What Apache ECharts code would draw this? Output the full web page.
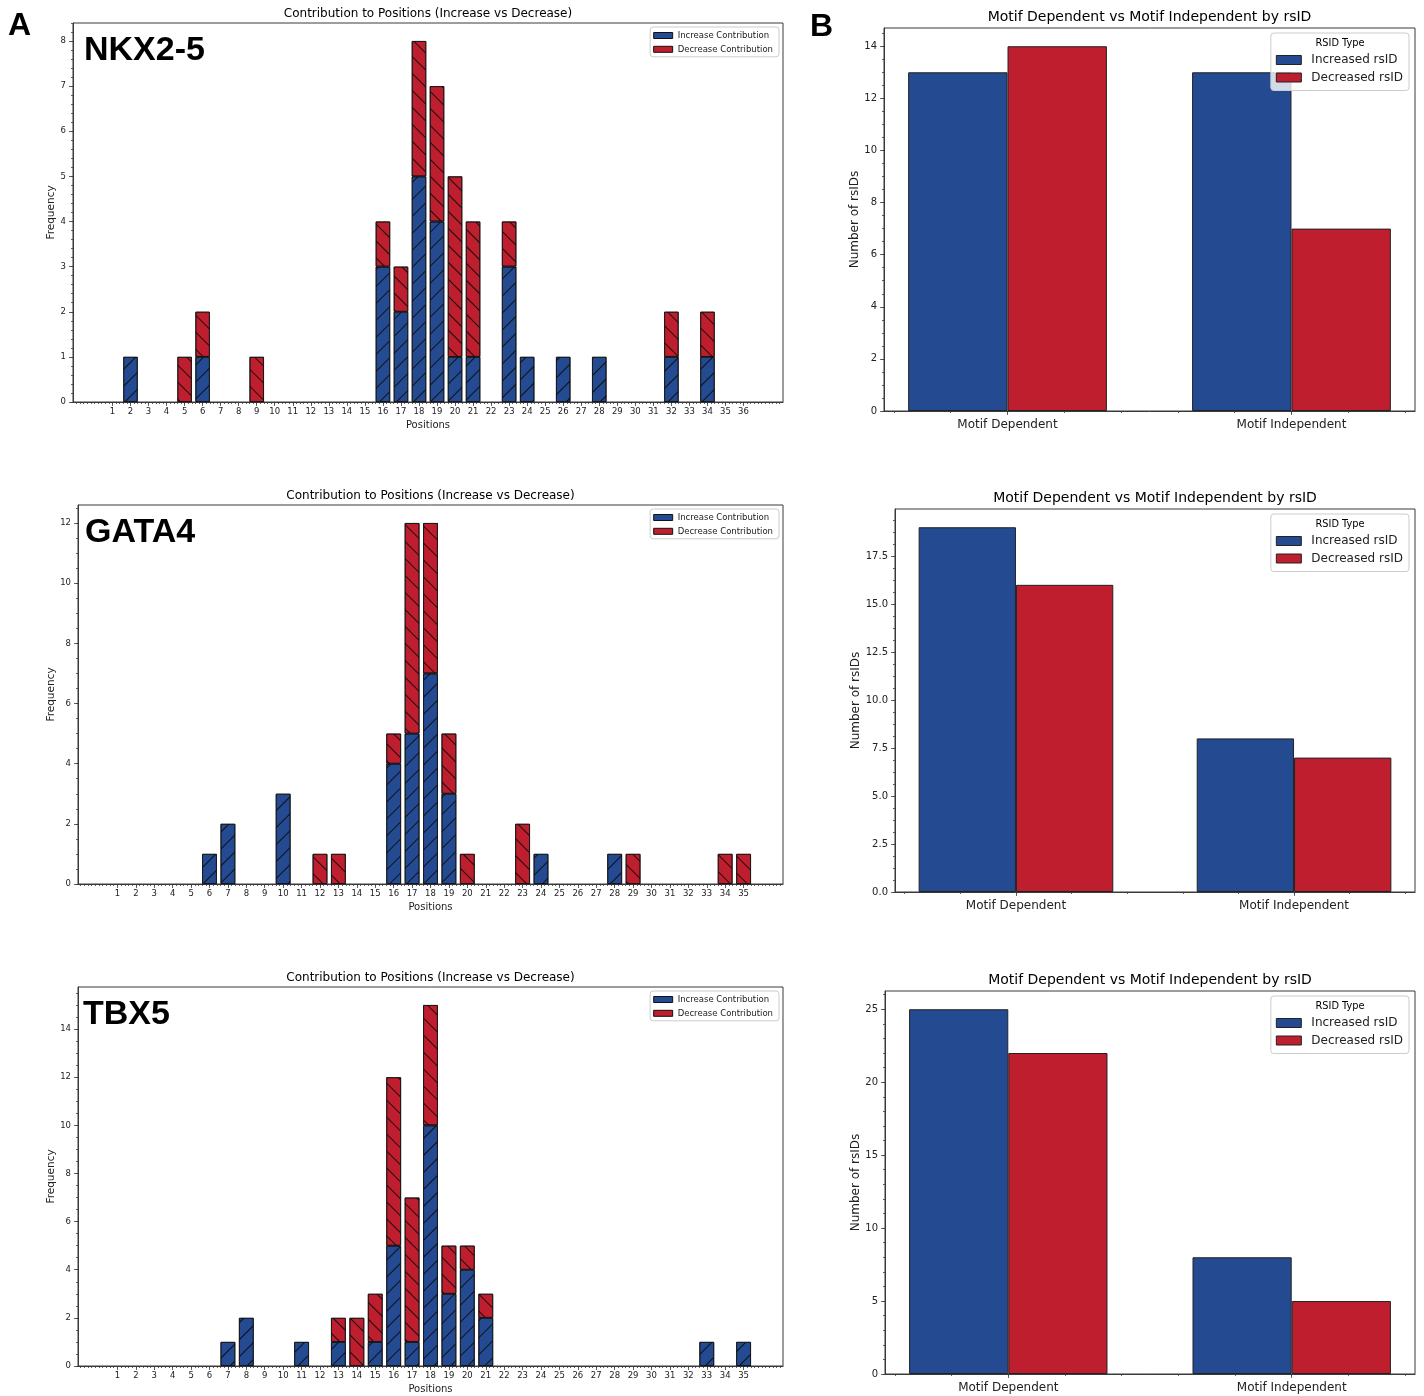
<!DOCTYPE html>
<html>
<head>
<meta charset="utf-8">
<script src="https://cdn.jsdelivr.net/npm/echarts@6/dist/echarts.min.js"></script>
<style>
    html, body { margin: 0; padding: 0; background: #fff; }
    #main { width: 1424px; height: 1396px; }
</style>
</head>
<body>
<div id="main"></div>
<script>
// ---- data ----
var nkxPositions = [1, 2, 3, 4, 5, 6, 7, 8, 9, 10, 11, 12, 13, 14, 15, 16, 17, 18, 19, 20, 21, 22, 23, 24, 25, 26, 27, 28, 29, 30, 31, 32, 33, 34, 35, 36];
var nkxIncrease = [0, 1, 0, 0, 0, 1, 0, 0, 0, 0, 0, 0, 0, 0, 0, 3, 2, 5, 4, 1, 1, 0, 3, 1, 0, 1, 0, 1, 0, 0, 0, 1, 0, 1, 0, 0];
var nkxDecrease = [0, 0, 0, 0, 1, 1, 0, 0, 1, 0, 0, 0, 0, 0, 0, 1, 1, 3, 3, 4, 3, 0, 1, 0, 0, 0, 0, 0, 0, 0, 0, 1, 0, 1, 0, 0];
var nkxYTicks = [0, 1, 2, 3, 4, 5, 6, 7, 8];

var gataPositions = [1, 2, 3, 4, 5, 6, 7, 8, 9, 10, 11, 12, 13, 14, 15, 16, 17, 18, 19, 20, 21, 22, 23, 24, 25, 26, 27, 28, 29, 30, 31, 32, 33, 34, 35];
var gataIncrease = [0, 0, 0, 0, 0, 1, 2, 0, 0, 3, 0, 0, 0, 0, 0, 4, 5, 7, 3, 0, 0, 0, 0, 1, 0, 0, 0, 1, 0, 0, 0, 0, 0, 0, 0];
var gataDecrease = [0, 0, 0, 0, 0, 0, 0, 0, 0, 0, 0, 1, 1, 0, 0, 1, 7, 5, 2, 1, 0, 0, 2, 0, 0, 0, 0, 0, 1, 0, 0, 0, 0, 1, 1];
var gataYTicks = [0, 2, 4, 6, 8, 10, 12];

var tbxPositions = [1, 2, 3, 4, 5, 6, 7, 8, 9, 10, 11, 12, 13, 14, 15, 16, 17, 18, 19, 20, 21, 22, 23, 24, 25, 26, 27, 28, 29, 30, 31, 32, 33, 34, 35];
var tbxIncrease = [0, 0, 0, 0, 0, 0, 1, 2, 0, 0, 1, 0, 1, 0, 1, 5, 1, 10, 3, 4, 2, 0, 0, 0, 0, 0, 0, 0, 0, 0, 0, 0, 1, 0, 1];
var tbxDecrease = [0, 0, 0, 0, 0, 0, 0, 0, 0, 0, 0, 0, 1, 2, 2, 7, 6, 5, 2, 1, 1, 0, 0, 0, 0, 0, 0, 0, 0, 0, 0, 0, 0, 0, 0];
var tbxYTicks = [0, 2, 4, 6, 8, 10, 12, 14];

var motifCategories = ['Motif Dependent', 'Motif Independent'];
var nkxMotifIncreased = [13, 13];
var nkxMotifDecreased = [14, 7];
var nkxMotifYTicks = [0, 2, 4, 6, 8, 10, 12, 14];
var gataMotifIncreased = [19, 8];
var gataMotifDecreased = [16, 7];
var gataMotifYTicks = [0, 2.5, 5, 7.5, 10, 12.5, 15, 17.5];
var tbxMotifIncreased = [25, 8];
var tbxMotifDecreased = [22, 5];
var tbxMotifYTicks = [0, 5, 10, 15, 20, 25];

// ---- style ----
var BLUE = '#244a91';
var RED = '#be1e2d';
var INK = '#222';
var SPINE = '#3a3a3a';
var FONT = '"DejaVu Sans", sans-serif';

// positions of minor ticks along an axis
function steps(a, b, step) {
    var out = [];
    for (var k = Math.ceil(a / step - 1e-9); k * step <= b + 1e-9; k++) {
        out.push(+(k * step).toFixed(4));
    }
    return out;
}

function hatch(rot) { // matplotlib-like hatch lines
    return {
        symbol: 'rect', symbolSize: 1, color: 'rgba(10,10,10,0.9)', backgroundColor: null,
        dashArrayX: [1, 0], dashArrayY: [1, 11], rotation: rot
    };
}

// value first, position second: the stack then runs on the value dimension
function pairs(pos, vals) {
    return pos.map(function (p, i) { return [vals[i] ? vals[i] : '-', p]; });
}

var leftPanels = [
    { gene: 'NKX2-5', pos: nkxPositions, inc: nkxIncrease, dec: nkxDecrease, yTicks: nkxYTicks, yMinor: 0.2, box: [73, 23, 710, 379], geneAt: [84, 51] },
    { gene: 'GATA4', pos: gataPositions, inc: gataIncrease, dec: gataDecrease, yTicks: gataYTicks, yMinor: 0.5, box: [78, 505, 705, 379], geneAt: [85, 533] },
    { gene: 'TBX5', pos: tbxPositions, inc: tbxIncrease, dec: tbxDecrease, yTicks: tbxYTicks, yMinor: 0.5, box: [78, 987, 705, 379], geneAt: [83, 1015] }
];
var rightPanels = [
    { inc: nkxMotifIncreased, dec: nkxMotifDecreased, yTicks: nkxMotifYTicks, yMinor: 0.5, decimals: 0, box: [884, 28, 531, 383] },
    { inc: gataMotifIncreased, dec: gataMotifDecreased, yTicks: gataMotifYTicks, yMinor: 0.625, decimals: 1, box: [895, 509, 520, 383] },
    { inc: tbxMotifIncreased, dec: tbxMotifDecreased, yTicks: tbxMotifYTicks, yMinor: 1, decimals: 0, box: [885, 991, 530, 383] }
];

var grid = [], xAxis = [], yAxis = [], series = [], legend = [], graphic = [];

function tickAxis(kind, g, min, max, values, len) { // extra axis that only carries ticks
    return {
        type: 'value', gridIndex: g, min: min, max: max, position: kind === 'x' ? 'bottom' : 'left',
        axisLine: { show: false, onZero: false },
        axisTick: { show: true, customValues: values, length: len, lineStyle: { color: SPINE, width: 0.8 } },
        axisLabel: { show: false }, splitLine: { show: false }
    };
}

function text(x, y, str, font, align) {
    return {
        type: 'text', x: x, y: y, z: 100, silent: true,
        style: { text: str, font: font, fill: '#000', align: align || 'center', verticalAlign: 'middle', textAlign: align || 'center', textVerticalAlign: 'middle' }
    };
}

leftPanels.forEach(function (p, i) {
    var g = grid.length;
    grid.push({ left: p.box[0], top: p.box[1], width: p.box[2], height: p.box[3], show: true, borderColor: SPINE, borderWidth: 1 });

    var n = p.pos.length;
    var span = n - 0.2;                       // bars occupy [0.6, n + 0.4]
    var xMin = 0.6 - 0.05 * span, xMax = n + 0.4 + 0.05 * span;
    var totals = p.inc.map(function (v, k) { return v + p.dec[k]; });
    var yMax = Math.max.apply(null, totals) * 1.05;

    var xi = xAxis.length;
    xAxis.push({
        type: 'value', gridIndex: g, min: xMin, max: xMax, position: 'bottom',
        axisLine: { show: true, onZero: false, lineStyle: { color: SPINE, width: 1 } },
        axisTick: { show: true, customValues: p.pos, length: 4, lineStyle: { color: SPINE, width: 0.8 } },
        axisLabel: { customValues: p.pos, fontSize: 8.5, color: INK, margin: 5, fontFamily: FONT },
        splitLine: { show: false },
        name: 'Positions', nameLocation: 'middle', nameGap: 18,
        nameTextStyle: { fontSize: 10, color: INK, fontFamily: FONT }
    });
    xAxis.push(tickAxis('x', g, xMin, xMax, steps(xMin, xMax, 0.2), 2));

    var yi = yAxis.length;
    yAxis.push({
        type: 'value', gridIndex: g, min: 0, max: yMax, position: 'left',
        axisLine: { show: true, onZero: false, lineStyle: { color: SPINE, width: 1 } },
        axisTick: { show: true, customValues: p.yTicks, length: 4, lineStyle: { color: SPINE, width: 0.8 } },
        axisLabel: { customValues: p.yTicks, fontSize: 8.5, color: INK, margin: 7, fontFamily: FONT },
        splitLine: { show: false },
        name: 'Frequency', nameLocation: 'middle', nameGap: 15,
        nameTextStyle: { fontSize: 10.5, color: INK, fontFamily: FONT }
    });
    yAxis.push(tickAxis('y', g, 0, yMax, steps(0, yMax, p.yMinor), 2));

    var bw = 0.8 * p.box[2] / (xMax - xMin);
    series.push({
        type: 'bar', name: 'Increase Contribution', xAxisIndex: xi, yAxisIndex: yi, stack: 'left' + i,
        barWidth: bw, encode: { x: 1, y: 0 }, data: pairs(p.pos, p.inc),
        itemStyle: { color: BLUE, borderColor: '#111', borderWidth: 0.8, decal: hatch(-Math.PI / 4) }
    });
    series.push({
        type: 'bar', name: 'Decrease Contribution', xAxisIndex: xi, yAxisIndex: yi, stack: 'left' + i,
        barWidth: bw, encode: { x: 1, y: 0 }, data: pairs(p.pos, p.dec),
        itemStyle: { color: RED, borderColor: '#111', borderWidth: 0.8, decal: hatch(Math.PI / 4) }
    });

    legend.push({
        data: ['Increase Contribution', 'Decrease Contribution'], orient: 'vertical',
        right: 1424 - (p.box[0] + p.box[2]) + 4, top: p.box[1] + 4,
        icon: 'rect', itemWidth: 19, itemHeight: 6, itemGap: 4.8, padding: [4, 6, 3, 3],
        backgroundColor: 'rgba(255,255,255,0.8)', borderColor: '#cccccc', borderWidth: 1, borderRadius: 3,
        textStyle: { fontSize: 8.5, color: INK, fontFamily: FONT },
        itemStyle: { borderColor: '#111', borderWidth: 1, decal: 'none' },
        selectedMode: false
    });

    graphic.push(text(p.box[0] + p.box[2] / 2, p.box[1] - 9, 'Contribution to Positions (Increase vs Decrease)', '12px ' + FONT));
    graphic.push(text(p.geneAt[0], p.geneAt[1], p.gene, 'bold 34px "Liberation Sans", Arial, sans-serif', 'left'));
});

rightPanels.forEach(function (p, i) {
    var g = grid.length;
    grid.push({ left: p.box[0], top: p.box[1], width: p.box[2], height: p.box[3], show: true, borderColor: SPINE, borderWidth: 1 });

    var xMin = -0.35 - 0.05 * 1.7, xMax = 1.35 + 0.05 * 1.7;   // bars span [-0.35, 1.35]
    var yMax = Math.max.apply(null, p.inc.concat(p.dec)) * 1.05;
    var centers = motifCategories.map(function (c, k) { return k; });

    var xi = xAxis.length;
    xAxis.push({
        type: 'value', gridIndex: g, min: xMin, max: xMax, position: 'bottom',
        axisLine: { show: true, onZero: false, lineStyle: { color: SPINE, width: 1 } },
        axisTick: { show: true, customValues: centers, length: 4, lineStyle: { color: SPINE, width: 0.8 } },
        axisLabel: {
            customValues: centers, fontSize: 12, color: INK, margin: 8, fontFamily: FONT,
            formatter: function (v) { return motifCategories[Math.round(v)]; }
        },
        splitLine: { show: false }
    });
    xAxis.push(tickAxis('x', g, xMin, xMax, steps(xMin, xMax, 0.2), 2));

    var yi = yAxis.length;
    yAxis.push({
        type: 'value', gridIndex: g, min: 0, max: yMax, position: 'left',
        axisLine: { show: true, onZero: false, lineStyle: { color: SPINE, width: 1 } },
        axisTick: { show: true, customValues: p.yTicks, length: 4, lineStyle: { color: SPINE, width: 0.8 } },
        axisLabel: {
            customValues: p.yTicks, fontSize: 10, color: INK, margin: 7, fontFamily: FONT,
            formatter: function (v) { return v.toFixed(p.decimals); }
        },
        splitLine: { show: false },
        name: 'Number of rsIDs', nameLocation: 'middle', nameGap: 23,
        nameTextStyle: { fontSize: 12, color: INK, fontFamily: FONT }
    });
    yAxis.push(tickAxis('y', g, 0, yMax, steps(0, yMax, p.yMinor), 2));

    var bw = 0.35 * p.box[2] / (xMax - xMin);
    series.push({
        type: 'bar', name: 'Increased rsID', xAxisIndex: xi, yAxisIndex: yi, barWidth: bw, barGap: '0%',
        data: centers.map(function (k) { return [k, p.inc[k]]; }),
        itemStyle: { color: BLUE, borderColor: '#222', borderWidth: 1 }
    });
    series.push({
        type: 'bar', name: 'Decreased rsID', xAxisIndex: xi, yAxisIndex: yi, barWidth: bw, barGap: '0%',
        data: centers.map(function (k) { return [k, p.dec[k]]; }),
        itemStyle: { color: RED, borderColor: '#222', borderWidth: 1 }
    });

    legend.push({
        data: ['Increased rsID', 'Decreased rsID'], orient: 'vertical',
        right: 15, top: p.box[1] + 5,
        icon: 'rect', itemWidth: 25, itemHeight: 9, itemGap: 5.5, padding: [21, 6, 7, 5],
        backgroundColor: 'rgba(255,255,255,0.8)', borderColor: '#cccccc', borderWidth: 1, borderRadius: 3,
        textStyle: { fontSize: 12, color: INK, fontFamily: FONT, padding: [0, 0, 0, 5] },
        itemStyle: { borderColor: '#222', borderWidth: 1 },
        selectedMode: false
    });

    graphic.push(text(p.box[0] + p.box[2] / 2, p.box[1] - 11, 'Motif Dependent vs Motif Independent by rsID', '14px ' + FONT));
    graphic.push(text(1340, p.box[1] + 15, 'RSID Type', '9.8px ' + FONT));
});

graphic.push(text(8, 26, 'A', 'bold 32px "Liberation Sans", Arial, sans-serif', 'left'));
graphic.push(text(810, 27, 'B', 'bold 32px "Liberation Sans", Arial, sans-serif', 'left'));

var myChart = echarts.init(document.getElementById('main'), null, { renderer: 'canvas' });
myChart.setOption({
    animation: false,
    backgroundColor: '#fff',
    textStyle: { fontFamily: FONT },
    grid: grid,
    xAxis: xAxis,
    yAxis: yAxis,
    legend: legend,
    series: series,
    graphic: graphic
});
</script>
</body>
</html>
